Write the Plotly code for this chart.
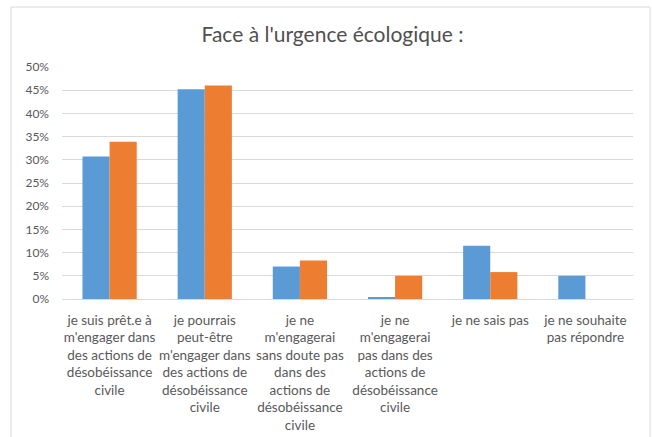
import plotly.graph_objects as go

categories = [
    "je suis prêt.e à<br>m'engager dans<br>des actions de<br>désobéissance<br>civile",
    "je pourrais<br>peut-être<br>m'engager dans<br>des actions de<br>désobéissance<br>civile",
    "je ne<br>m'engagerai<br>sans doute pas<br>dans des<br>actions de<br>désobéissance<br>civile",
    "je ne<br>m'engagerai<br>pas dans des<br>actions de<br>désobéissance<br>civile",
    "je ne sais pas",
    "je ne souhaite<br>pas répondre",
]
series_a = [0.307, 0.452, 0.070, 0.003, 0.115, 0.050]
series_b = [0.339, 0.460, 0.083, 0.050, 0.058, 0.0]
y_ticks = [0, 0.05, 0.10, 0.15, 0.20, 0.25, 0.30, 0.35, 0.40, 0.45, 0.50]
y_tick_labels = ["0%", "5%", "10%", "15%", "20%", "25%", "30%", "35%", "40%", "45%", "50%"]
title_text = "Face à l'urgence écologique :"

FONT = "Lato"
GRAY = "#595959"

fig = go.Figure()
fig.add_trace(go.Bar(x=categories, y=series_a, marker_color="#5B9BD5", marker_line_width=0, name="A"))
fig.add_trace(go.Bar(x=categories, y=series_b, marker_color="#ED7D31", marker_line_width=0, name="B"))

W, H = 652, 437
l, r, t, b = 62, 19, 67, 138
pw, ph = W - l - r, H - t - b

def px_x(x):
    return (x - l) / pw

def px_y(y):
    return (H - b - y) / ph

fig.update_layout(
    width=W, height=H,
    margin=dict(l=l, r=r, t=t, b=b),
    paper_bgcolor="white", plot_bgcolor="white",
    barmode="group", bargap=0.43, bargroupgap=0,
    showlegend=False,
    font=dict(family=FONT, color=GRAY),
    title=dict(text=title_text, x=0.51, xanchor="center", y=1 - 35 / H, yanchor="middle",
               font=dict(family=FONT, size=21, color="#505050")),
    xaxis=dict(tickfont=dict(size=13.5, color=GRAY), showgrid=False, showline=False,
               ticks="", automargin=False, ticklabelstandoff=11, tickangle=0),
    yaxis=dict(range=[0, 0.5], tickvals=y_ticks, ticktext=y_tick_labels,
               tickfont=dict(size=12, color=GRAY), showgrid=True, gridcolor="#D9D9D9",
               gridwidth=1, zeroline=True, zerolinecolor="#D9D9D9", zerolinewidth=1,
               showline=False, ticks="", automargin=False, ticklabelstandoff=12),
    shapes=[dict(type="rect", xref="paper", yref="paper",
                 x0=px_x(11), x1=px_x(650), y0=px_y(440), y1=px_y(7),
                 line=dict(color="#D9D9D9", width=1), fillcolor="rgba(0,0,0,0)", layer="below")],
)

fig.write_html("out.html", post_script="document.body.style.margin='0';",
               config={"displayModeBar": False})
